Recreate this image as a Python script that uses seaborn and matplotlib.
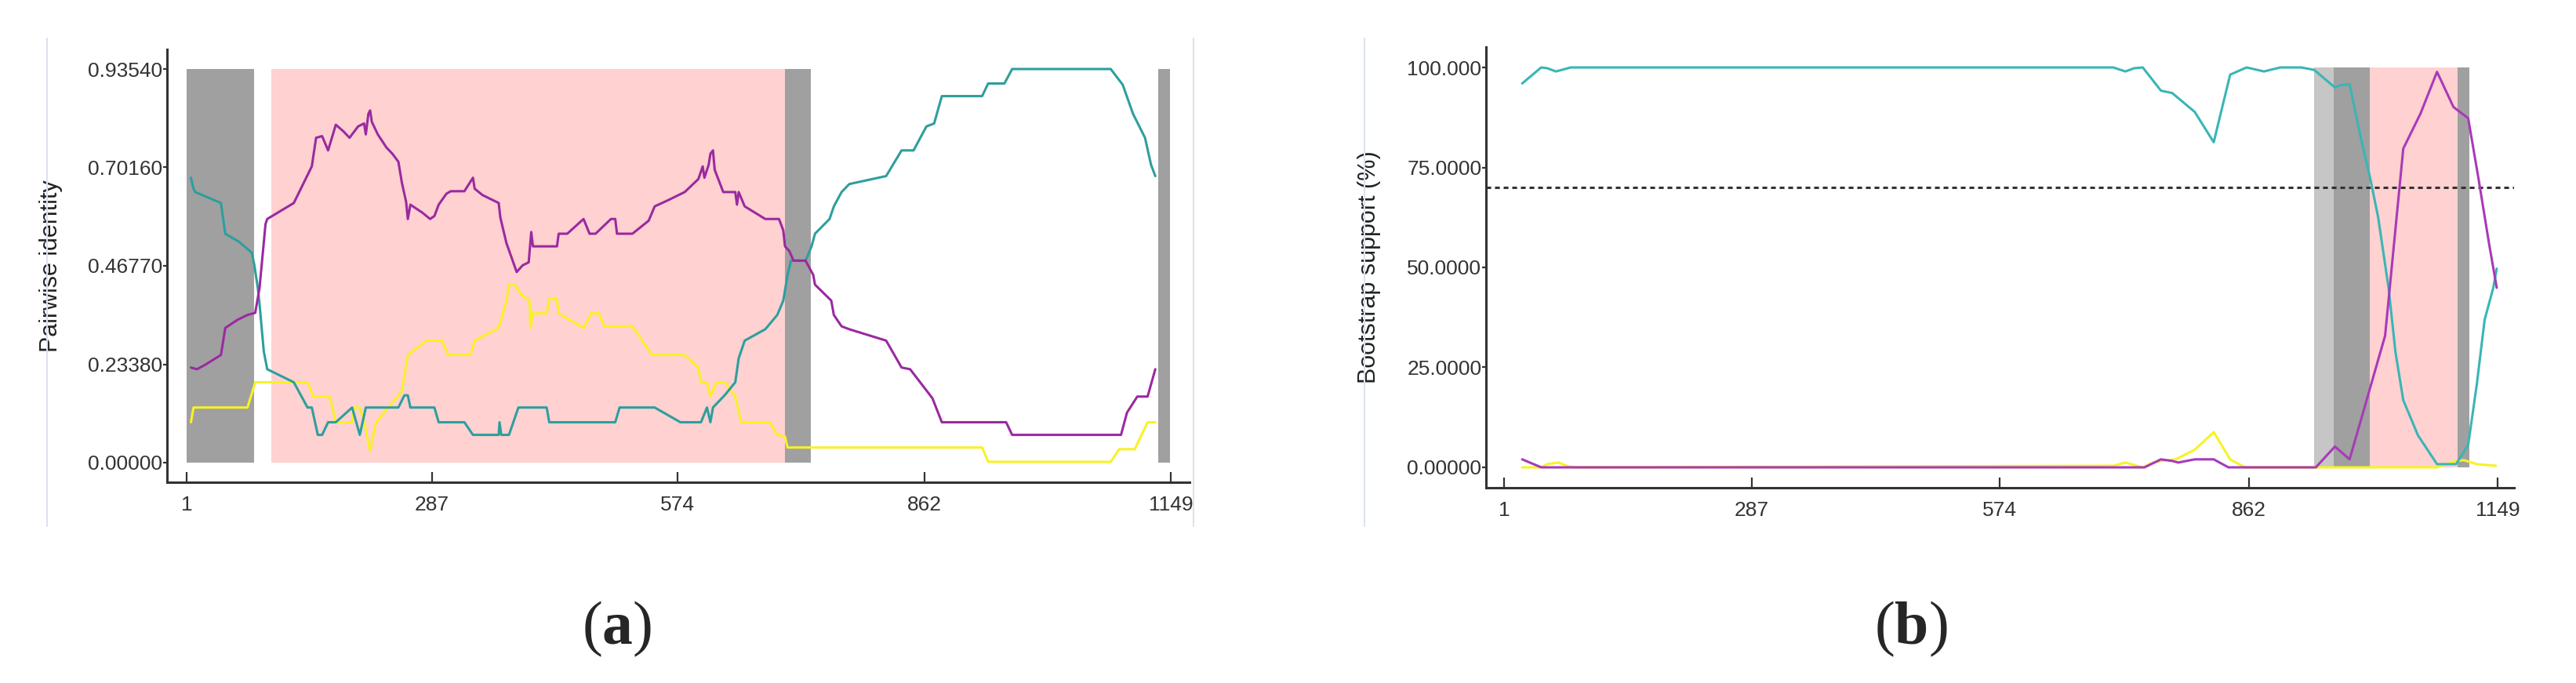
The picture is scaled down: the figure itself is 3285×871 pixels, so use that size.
import numpy as np
import pandas as pd
import seaborn as sns
import matplotlib.pyplot as plt
from matplotlib.lines import Line2D

# ---- data ----
x_ticks = [1, 287, 574, 862, 1149]

# (a) pairwise identity, (position, value)
a_purple = [(6, 0.226), (13, 0.222), (23, 0.233), (41, 0.256), (46, 0.320), (60, 0.339),
            (72, 0.351), (81, 0.356), (86, 0.415), (93, 0.567), (95, 0.579), (126, 0.617),
            (147, 0.704), (152, 0.772), (159, 0.776), (166, 0.742), (175, 0.803), (184, 0.787),
            (191, 0.772), (201, 0.799), (208, 0.806), (210, 0.780), (213, 0.829), (215, 0.837),
            (217, 0.810), (224, 0.780), (234, 0.749), (241, 0.734), (248, 0.715), (252, 0.666),
            (257, 0.620), (259, 0.579), (262, 0.613), (276, 0.594), (285, 0.579), (290, 0.586),
            (295, 0.613), (304, 0.639), (309, 0.645), (325, 0.645), (335, 0.677), (337, 0.651),
            (346, 0.636), (365, 0.617), (367, 0.582), (374, 0.522), (386, 0.453), (393, 0.469),
            (400, 0.476), (403, 0.548), (405, 0.514), (433, 0.514), (435, 0.544), (445, 0.544),
            (464, 0.579), (471, 0.544), (478, 0.544), (496, 0.579), (501, 0.579), (503, 0.544),
            (521, 0.544), (540, 0.575), (547, 0.609), (563, 0.624), (582, 0.643), (598, 0.674),
            (603, 0.704), (605, 0.677), (610, 0.708), (612, 0.734), (615, 0.742), (617, 0.696),
            (627, 0.643), (641, 0.643), (643, 0.613), (645, 0.643), (652, 0.609), (676, 0.579),
            (692, 0.579), (697, 0.552), (699, 0.514), (704, 0.503), (709, 0.480), (723, 0.480),
            (732, 0.446), (734, 0.423), (753, 0.385), (756, 0.351), (765, 0.324), (774, 0.317),
            (817, 0.290), (835, 0.226), (845, 0.222), (871, 0.153), (882, 0.096), (957, 0.096),
            (964, 0.066), (1091, 0.066), (1098, 0.119), (1110, 0.157), (1122, 0.157), (1131, 0.222)]

a_teal = [(6, 0.677), (9, 0.651), (11, 0.643), (41, 0.617), (46, 0.544), (62, 0.525), (77, 0.499),
          (80, 0.469), (84, 0.415), (86, 0.377), (91, 0.264), (95, 0.222), (126, 0.191),
          (142, 0.131), (147, 0.131), (154, 0.066), (159, 0.066), (166, 0.096), (175, 0.096),
          (194, 0.131), (203, 0.066), (210, 0.131), (248, 0.131), (255, 0.160), (259, 0.160),
          (262, 0.131), (290, 0.131), (295, 0.096), (325, 0.096), (335, 0.066), (365, 0.066),
          (366, 0.096), (368, 0.066), (377, 0.066), (388, 0.131), (421, 0.131), (424, 0.096),
          (501, 0.096), (506, 0.131), (547, 0.131), (577, 0.096), (601, 0.096), (608, 0.131),
          (612, 0.096), (615, 0.131), (629, 0.161), (641, 0.191), (645, 0.248), (652, 0.290),
          (676, 0.317), (690, 0.351), (697, 0.385), (702, 0.446), (706, 0.480), (723, 0.480),
          (730, 0.514), (734, 0.544), (751, 0.579), (756, 0.609), (765, 0.643), (774, 0.662),
          (817, 0.681), (835, 0.742), (849, 0.742), (864, 0.799), (873, 0.806), (882, 0.871),
          (929, 0.871), (936, 0.901), (955, 0.901), (964, 0.9354), (1079, 0.9354), (1093, 0.898),
          (1105, 0.829), (1119, 0.772), (1126, 0.708), (1131, 0.681)]

a_yellow = [(6, 0.096), (9, 0.131), (72, 0.131), (81, 0.191), (142, 0.191), (149, 0.157),
            (168, 0.157), (175, 0.096), (194, 0.096), (196, 0.131), (203, 0.131), (208, 0.096),
            (215, 0.028), (222, 0.096), (252, 0.169), (259, 0.256), (281, 0.290), (299, 0.290),
            (306, 0.256), (332, 0.256), (337, 0.290), (365, 0.320), (374, 0.385), (377, 0.423),
            (384, 0.423), (391, 0.400), (401, 0.385), (402, 0.320), (405, 0.355), (421, 0.355),
            (424, 0.389), (433, 0.389), (435, 0.355), (464, 0.320), (473, 0.355), (482, 0.355),
            (488, 0.324), (521, 0.324), (544, 0.256), (582, 0.256), (598, 0.226), (601, 0.191),
            (608, 0.191), (612, 0.157), (619, 0.191), (629, 0.191), (641, 0.157), (648, 0.096),
            (681, 0.096), (690, 0.066), (699, 0.062), (702, 0.036), (929, 0.036), (936, 0.002),
            (1079, 0.002), (1089, 0.032), (1107, 0.032), (1122, 0.096), (1131, 0.096)]

a_yticks = [0.0, 0.2338, 0.4677, 0.7016, 0.9354]
a_ylabels = ["0.00000", "0.23380", "0.46770", "0.70160", "0.93540"]
a_regions = [(1, 80, "gray"), (100, 699, "pink"), (699, 729, "gray"), (1134, 1148, "gray")]

# (b) bootstrap support
b_teal = [(22, 96.0), (44, 100), (51, 99.8), (61, 99.0), (68, 99.4), (78, 100), (705, 100),
          (719, 99.0), (729, 99.8), (739, 100), (760, 94.2), (773, 93.6), (799, 88.9),
          (821, 81.3), (840, 98.2), (859, 100), (879, 99.0), (898, 100), (922, 100), (937, 99.4),
          (961, 95.0), (966, 95.5), (978, 95.8), (990, 83.3), (1002, 72.1), (1011, 62.5),
          (1023, 44.9), (1031, 28.8), (1040, 16.8), (1057, 8.0), (1079, 0.8), (1101, 0.8),
          (1115, 5.6), (1125, 20.8), (1134, 36.9), (1144, 44.9), (1148, 49.7)]

b_purple = [(22, 2.0), (44, 0), (741, 0), (760, 2.0), (773, 1.6), (780, 1.2), (799, 2.0),
            (821, 2.0), (838, 0), (939, 0), (961, 5.2), (978, 2.0), (1019, 32.9), (1040, 79.7),
            (1060, 88.5), (1079, 98.9), (1098, 90.1), (1115, 87.3), (1127, 72.1), (1139, 56.1),
            (1148, 44.9)]

b_yellow = [(22, 0), (44, 0), (51, 0.8), (64, 1.2), (76, 0.2), (86, 0), (705, 0.4), (719, 1.2),
            (739, 0), (751, 1.2), (760, 1.6), (777, 2.0), (799, 4.4), (821, 8.8), (840, 2.0),
            (857, 0), (1079, 0), (1101, 1.6), (1110, 1.8), (1125, 0.8), (1147, 0.4)]

b_yticks = [0, 25, 50, 75, 100]
b_ylabels = ["0.00000", "25.0000", "50.0000", "75.0000", "100.000"]
b_regions = [(937, 960, "lightgray"), (960, 1001, "gray"), (1001, 1103, "pink"), (1103, 1116, "gray")]
b_threshold = 70

region_colors = {"gray": "#a0a0a0", "lightgray": "#c6c6c6", "pink": "#ffd1d1"}


def to_frame(series):
    rows = []
    for name, pts in series.items():
        for pos, val in pts:
            rows.append([name, pos, val])
    return pd.DataFrame(rows, columns=["seq", "pos", "value"])


def draw_panel(ax, series, palette, regions, top, yticks, ylabels, ylabel, xlim, ylim):
    for x0, x1, kind in regions:
        ax.fill_between([x0, x1], 0, top, color=region_colors[kind], lw=0, zorder=0)
    df = to_frame(series)
    sns.lineplot(data=df, x="pos", y="value", hue="seq", hue_order=list(series.keys()),
                 palette=palette, estimator=None, sort=False, lw=2.2, legend=False, ax=ax)
    ax.set_xlim(*xlim)
    ax.set_ylim(*ylim)
    ax.set_xticks(x_ticks)
    ax.set_xticklabels([str(t) for t in x_ticks])
    ax.set_yticks(yticks)
    ax.set_yticklabels(ylabels)
    ax.set_xlabel("")
    ax.set_ylabel(ylabel, fontsize=22, color="#222222")
    ax.yaxis.set_label_coords(-0.102, 0.5)
    ax.tick_params(axis="x", direction="in", length=9.5, width=1.6, pad=12,
                   labelsize=19, colors="#333333", bottom=True)
    ax.tick_params(axis="y", direction="out", length=3.5, width=1.6, pad=0.5,
                   labelsize=19, colors="#333333", left=True)
    for side in ["top", "right"]:
        ax.spines[side].set_visible(False)
    for side in ["left", "bottom"]:
        ax.spines[side].set_color("#333333")
        ax.spines[side].set_linewidth(2.2)
    ax.set_facecolor("none")


sns.set_theme(style="white")
plt.rcParams["font.family"] = ["Liberation Sans", "DejaVu Sans"]
plt.rcParams["mathtext.fontset"] = "custom"
plt.rcParams["mathtext.rm"] = "Liberation Serif"
plt.rcParams["mathtext.bf"] = "Liberation Serif:bold"

W, H = 3285, 871
fig = plt.figure(figsize=(W / 100, H / 100), dpi=100)
ax_a = fig.add_axes([213 / W, 1 - 615 / H, 1304 / W, 552 / H])
ax_b = fig.add_axes([1895 / W, 1 - 622 / H, 1311 / W, 562 / H])

draw_panel(ax_a, {"outgroup": a_yellow, "minor": a_teal, "major": a_purple},
           ["#f7f227", "#2e9e9e", "#9a2aa0"], a_regions, 0.9354,
           a_yticks, a_ylabels, "Pairwise identity", (-21.9, 1171), (-0.0466, 0.982))

draw_panel(ax_b, {"outgroup": b_yellow, "minor": b_teal, "major": b_purple},
           ["#f7f227", "#3ab5b5", "#a83ab8"], b_regions, 100,
           b_yticks, b_ylabels, "Bootstrap support (%)", (-19.8, 1168), (-5.1, 105.1))
ax_b.axhline(b_threshold, color="#333333", lw=2.2, ls=(0, (2, 1.6)), zorder=1)

# light screenshot borders
for x in [60, 1522, 1740]:
    fig.add_artist(Line2D([x / W, x / W], [1 - 49 / H, 1 - 671 / H], color="#dbe2ee", lw=1.5))

fig.text(787 / W, 1 - 802 / H, r"$(\mathbf{a})$", fontsize=56, ha="center", va="center")
fig.text(2437 / W, 1 - 802 / H, r"$(\mathbf{b})$", fontsize=56, ha="center", va="center")

fig.savefig("out.png", dpi=100)
